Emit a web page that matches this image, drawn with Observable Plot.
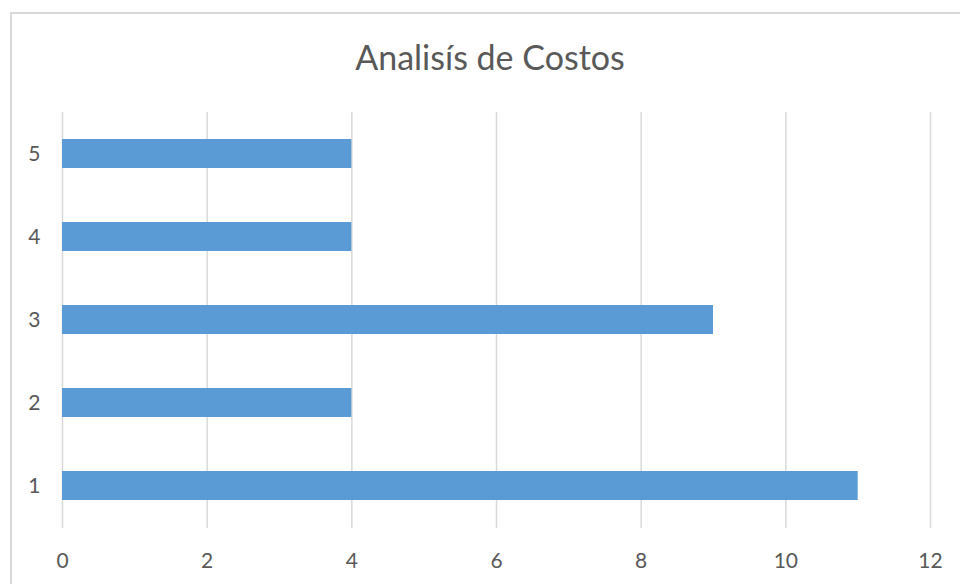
<!DOCTYPE html>
<html>
<head>
<meta charset="utf-8">
<script src="https://cdn.jsdelivr.net/npm/d3@7"></script>
<script src="https://cdn.jsdelivr.net/npm/@observablehq/plot@0.6"></script>
<style>
  html, body { margin: 0; padding: 0; background: #fff; overflow: hidden; }
  #wrap { position: relative; width: 960px; height: 584px; overflow: hidden; }
  #frame { position: absolute; left: 10px; top: 12px; width: 1000px; height: 1000px;
           border: 2.5px solid #d9d9d9; box-sizing: border-box; }
  #title { position: absolute; left: 0; top: 0; width: 980px; height: 100px; text-align: center;
           font-family: Lato, sans-serif; font-size: 34px; color: #595959; line-height: 1;
           padding-top: 40px; box-sizing: border-box; }
  #chart { position: absolute; left: 0; top: 100px; }
</style>
</head>
<body>
<div id="wrap">
  <div id="frame"></div>
  <div id="title">Analisís de Costos</div>
  <div id="chart"></div>
</div>
<script>
const categories = ["1", "2", "3", "4", "5"];
const costs = [11, 4, 9, 4, 4];
const xTicks = [0, 2, 4, 6, 8, 10, 12];

const data = categories.map((c, i) => ({ category: c, value: costs[i] }));

const chart = Plot.plot({
  width: 960,
  height: 484,
  marginTop: 12,
  marginBottom: 56,
  marginLeft: 62,
  marginRight: 30,
  style: { fontFamily: "Lato, sans-serif", fontSize: "21px", color: "#595959", background: "transparent", overflow: "visible" },
  x: { domain: [0, 12], ticks: xTicks, label: null },
  y: { domain: categories.slice().reverse(), paddingInner: 0.65, paddingOuter: 0.325, label: null },
  marks: [
    Plot.ruleX(xTicks, { stroke: "#d9d9d9", strokeWidth: 1.5, strokeOpacity: 1 }),
    Plot.barX(data, { x: "value", y: "category", fill: "#5b9bd5" }),
    Plot.axisX({ ticks: xTicks, tickSize: 0, tickPadding: 25, label: null, fill: "#595959" }),
    Plot.axisY({ tickSize: 0, tickPadding: 22, label: null, fill: "#595959" })
  ]
});
document.getElementById("chart").appendChild(chart);
</script>
</body>
</html>
